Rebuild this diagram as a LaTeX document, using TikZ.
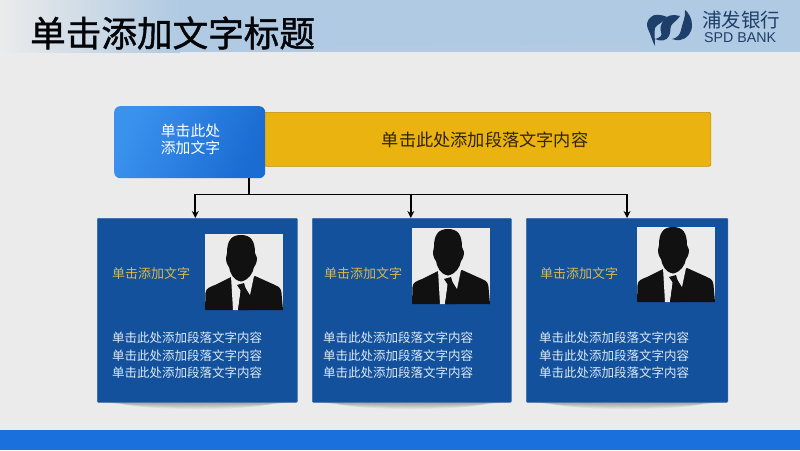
\documentclass[tikz,border=0pt]{standalone}
\usepackage{fontspec}
\setmainfont{Noto Sans CJK SC}
\setsansfont{Liberation Sans}
\newfontfamily\titlefont[FakeBold=1.2]{Noto Sans CJK SC}
\usetikzlibrary{arrows.meta,calc}
\definecolor{pagebg}{HTML}{EBEBEB}
\definecolor{bandblue}{HTML}{AFCAE2}
\definecolor{footblue}{HTML}{1A70DC}
\definecolor{cardblue}{HTML}{14519C}
\definecolor{barorange}{HTML}{EAB30F}
\definecolor{navy}{HTML}{1F3F6B}
\definecolor{goldtext}{HTML}{D8B850}
\definecolor{paletext}{HTML}{DCEAF8}
\definecolor{silh}{HTML}{111111}
\definecolor{HeadA}{HTML}{3B92EE}
\definecolor{HeadB}{HTML}{1A6BD2}
\tikzset{
  cardbox/.style={draw=cardblue!85!white,line width=.6pt,fill=cardblue,rounded corners=1pt,anchor=north west,inner sep=0pt,minimum height=184pt},
  headbox/.style={rounded corners=6pt,anchor=north west,inner sep=0pt,minimum width=151pt,minimum height=72pt,left color=HeadA,right color=HeadB,shading angle=65},
  headtext/.style={inner sep=0pt,text=white,align=center,font=\fontsize{14.8}{17.2}\selectfont},
  barbox/.style={draw=barorange!80!black,line width=.6pt,fill=barorange,rounded corners=2pt,anchor=north west,inner sep=0pt,minimum width=446.5pt,minimum height=54pt},
  photobox/.style={fill=pagebg,anchor=north west,inner sep=0pt,minimum width=78pt,minimum height=75pt},
  lbltext/.style={anchor=west,inner sep=0pt,text=goldtext,font=\fontsize{13}{16}\selectfont},
  bodytext/.style={anchor=north west,inner sep=0pt,text=paletext,align=left,font=\fontsize{12.5}{17.5}\selectfont},
  wire/.style={draw=black,line width=1.8pt},
  feed/.style={draw=black,line width=1.8pt,-{Stealth[length=7pt,width=7pt]}},
}
\newcommand{\person}[2]{%
  \begin{scope}[shift={(#1,#2)}]
    \fill[silh] (0,75) -- (0.5,58) .. controls (1,53) and (5,52) .. (10,50)
      -- (26,42) -- (36,50) -- (50,41) -- (70,50) .. controls (75,52) and (76,54) .. (76.5,58) -- (78,75) -- cycle;
    \fill[pagebg] (26,41) -- (28,75) -- (33,75) -- (36,52) -- (40,52) -- (45,60) -- (49,41) -- (36,46) -- cycle;
    \fill[silh] (32,50) -- (39,48) -- (41,55) -- (44,75) -- (33,75) -- (36,56) -- cycle;
    \fill[silh] (36,0) .. controls (26,0) and (22,6) .. (22,18)
      -- (21,23) .. controls (21,28) and (23,31) .. (24,32)
      .. controls (25,38) and (28,45) .. (36,46.5)
      .. controls (44,45) and (48,38) .. (49,32)
      .. controls (50,31) and (52,28) .. (52,23) -- (50,18)
      .. controls (50,6) and (46,0) .. (36,0) -- cycle;
  \end{scope}}
\newcommand{\softshadow}[3]{%
  \foreach \k in {1,...,6}{
    \fill[black,opacity=.05] ({(#1+#2)/2},#3) ellipse ({(#2-#1)/2-4*\k} and {1+\k});
  }}
\begin{document}
\begin{tikzpicture}[x=1pt,y=-1pt]
\useasboundingbox (0,0) rectangle (800,450);
% background
\fill[pagebg] (0,0) rectangle (800,450);
\shade[left color=pagebg,right color=bandblue] (0,0) rectangle (180,52);
\fill[bandblue] (180,0) rectangle (800,52);
\fill[white,opacity=.05] (315,47.5) -- (640,44) -- (640,52) -- (315,52) -- cycle;
\fill[footblue] (0,430) rectangle (800,450);
% title
\node[anchor=west,inner sep=0pt,text=black!92!navy,font=\titlefont\fontsize{35.6}{40}\selectfont] (title) at (30,33) {单击添加文字标题};
% logo
\fill[navy] (667,17) .. controls (660,14) and (654,14) .. (651,17)
  .. controls (647,20) and (646,25) .. (648,29)
  .. controls (651,35) and (652,41) .. (655,46)
  .. controls (655,38) and (654,33) .. (655,28)
  .. controls (657,24) and (663,23) .. (667,17) -- cycle;
\fill[navy] (680,16) .. controls (673,14) and (667,15) .. (664,20)
  .. controls (660,25) and (660,29) .. (661,32)
  .. controls (663,35) and (660,38) .. (655,39)
  .. controls (660,41.5) and (667,41) .. (669,36)
  .. controls (671,32) and (670,28) .. (671,26)
  .. controls (672,23) and (677,21) .. (680,16) -- cycle;
\fill[navy] (685,10) .. controls (689,13) and (692,19) .. (692,25)
  .. controls (692,33) and (687,39) .. (680,40)
  .. controls (677,40.5) and (675,40) .. (672,39)
  .. controls (677,38) and (680,35) .. (681,30)
  .. controls (682,24) and (686,17) .. (685,10) -- cycle;
\node[anchor=west,inner sep=0pt,text=navy,font=\fontsize{19.5}{22}\selectfont] (logocn) at (702,20) {浦发银行};
\node[anchor=west,inner sep=0pt,text=navy,font=\sffamily\fontsize{14.2}{18}\selectfont] (logoen) at (704,38) {SPD BANK};
% top row
\node[barbox] (bar) at (264,112) {};
\node[headbox] (head) at (114,106) {};
\node[headtext] (headlabel) at (190.5,139) {单击此处\\添加文字};
\node[text=black!80!barorange,font=\fontsize{17.2}{20}\selectfont,inner sep=0pt] (bartext) at (485,140) {单击此处添加段落文字内容};
% shadows
\softshadow{97}{297}{402}
\softshadow{312}{511}{402}
\softshadow{526}{728}{402}
% cards
\node[cardbox,minimum width=200pt] (card1) at (97,218) {};
\node[cardbox,minimum width=199pt] (card2) at (312,218) {};
\node[cardbox,minimum width=201.5pt] (card3) at (526,218) {};
% photos
\node[photobox] (photo1) at (205,234) {};
\node[photobox] (photo2) at (412,228) {};
\node[photobox] (photo3) at (637,227) {};
\person{205}{235}
\person{412}{229}
\person{637}{227}
% card text
\node[lbltext] (lab1) at (112,274) {单击添加文字};
\node[lbltext] (lab2) at (324,274) {单击添加文字};
\node[lbltext] (lab3) at (540,274) {单击添加文字};
\node[bodytext] (body1) at (112,332) {单击此处添加段落文字内容\\单击此处添加段落文字内容\\单击此处添加段落文字内容};
\node[bodytext] (body2) at (323,332) {单击此处添加段落文字内容\\单击此处添加段落文字内容\\单击此处添加段落文字内容};
\node[bodytext] (body3) at (539,332) {单击此处添加段落文字内容\\单击此处添加段落文字内容\\单击此处添加段落文字内容};
% connectors
\coordinate (bus) at (249,194.5);
\draw[wire] (head.south -| bus) -- (bus);
\draw[feed] (bus) -| ([xshift=-2pt]card1.north);
\draw[feed] (bus) -| ([xshift=-1pt]card2.north);
\draw[feed] (bus) -| (card3.north);
\end{tikzpicture}
\end{document}
